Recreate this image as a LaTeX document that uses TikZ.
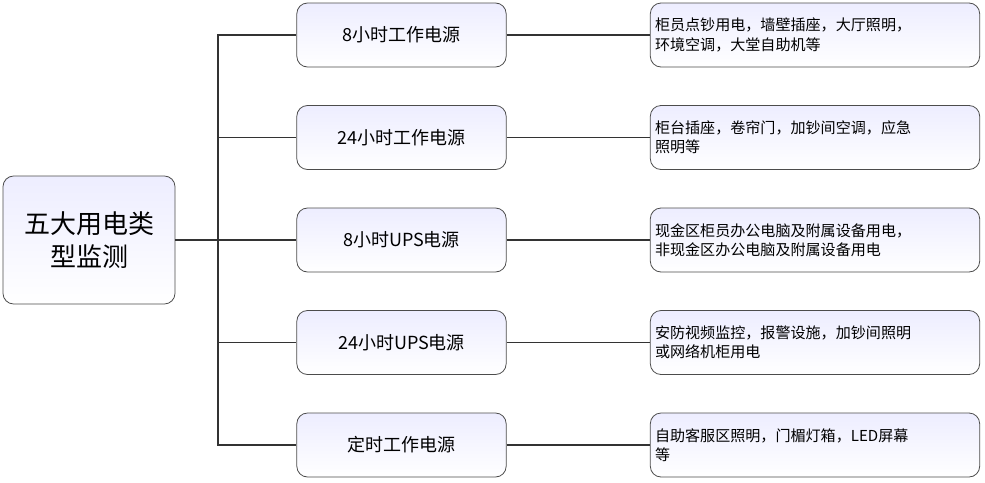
\documentclass[tikz,border=0pt]{standalone}
\usepackage{fontspec}
\setmainfont{Noto Sans CJK SC}
\begin{document}
\begin{tikzpicture}[x=0.75pt,y=-0.75pt]
				\tikzstyle{box}=[rounded corners=8pt,draw=black!70,top color=blue!7,bottom color=white,line width=0.6pt]
				\tikzstyle{kind}=[box,minimum width=157pt,minimum height=48pt,font=\fontsize{13.5}{16}\selectfont]
				\tikzstyle{info}=[box,minimum width=247pt,minimum height=48pt,text width=240pt,inner xsep=3pt,align=left,font=\fontsize{11.3}{14.5}\selectfont]
				\useasboundingbox (0,0) rectangle (985,482);
				\node[box,minimum width=129pt,minimum height=96pt,align=center,font=\fontsize{19.5}{25}\selectfont](root) at (89,240){五大用电类\\型监测};
				\node[kind](k1) at (401.5,35){8小时工作电源};
				\node[kind](k2) at (401.5,137.5){24小时工作电源};
				\node[kind](k3) at (401.5,240){8小时UPS电源};
				\node[kind](k4) at (401.5,342.5){24小时UPS电源};
				\node[kind](k5) at (401.5,445){定时工作电源};
				\node[info](i1) at (815,35){柜员点钞用电，墙壁插座，大厅照明，\\环境空调，大堂自助机等};
				\node[info](i2) at (815,137.5){柜台插座，卷帘门，加钞间空调，应急\\照明等};
				\node[info](i3) at (815,240){现金区柜员办公电脑及附属设备用电，\\非现金区办公电脑及附属设备用电};
				\node[info](i4) at (815,342.5){安防视频监控，报警设施，加钞间照明\\或网络机柜用电};
				\node[info](i5) at (815,445){自助客服区照明，门楣灯箱，LED屏幕\\等};
				\coordinate (trunk) at (218,240);
				\draw[black!80,line width=0.8pt] (root) -- (trunk);
				\foreach \i in {1,...,5}{
					\draw[black!80,line width=0.8pt] (trunk) |- (k\i);
					\draw[black!80,line width=0.8pt] (k\i) -- (i\i);
				}
\end{tikzpicture}
\end{document}
